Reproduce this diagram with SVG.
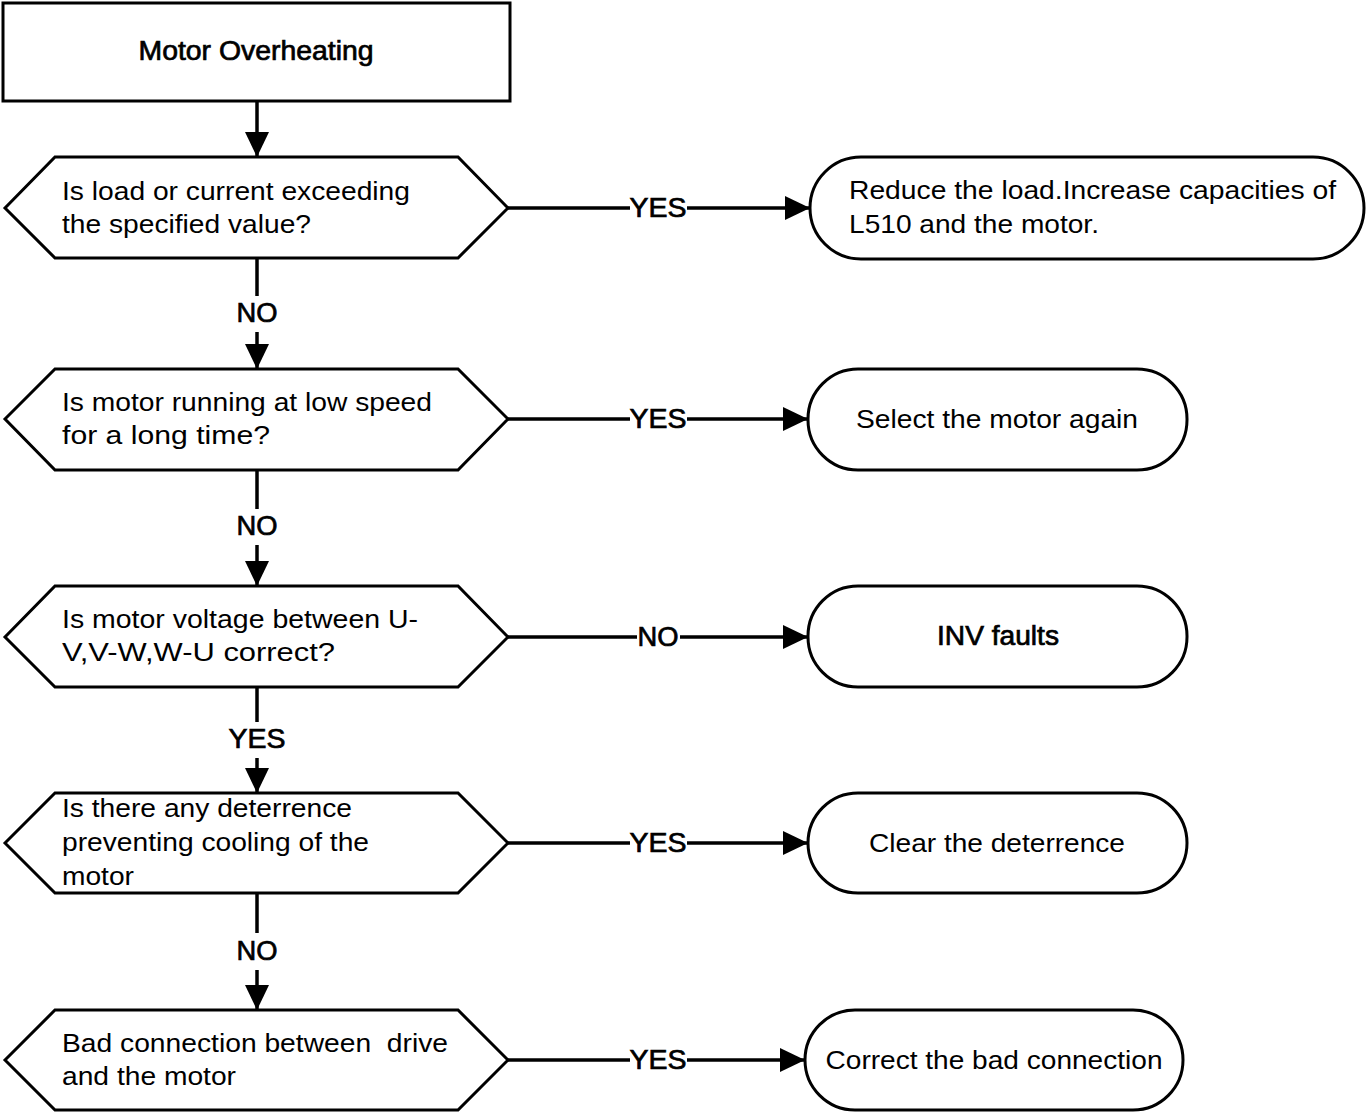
<svg xmlns="http://www.w3.org/2000/svg" width="1366" height="1113" viewBox="0 0 1366 1113">
<style>
.shape{fill:#fff;stroke:#000;stroke-width:3;stroke-linejoin:miter}
.conn{stroke:#000;stroke-width:3.5;fill:none}
.t{font-family:"Liberation Sans",Arial,sans-serif;font-size:26px;fill:#000;white-space:pre}
.b{font-family:"Liberation Sans",Arial,sans-serif;font-size:27px;fill:#000;stroke:#000;stroke-width:0.7}
.lbl{font-family:"Liberation Sans",Arial,sans-serif;font-size:27px;fill:#000;stroke:#000;stroke-width:0.7;text-anchor:middle}
.c{text-anchor:middle}
</style>
<defs>
<marker id="ah" markerUnits="userSpaceOnUse" markerWidth="26" markerHeight="24" refX="25" refY="12" orient="auto">
<path d="M0,0 L25,12 L0,24 z" fill="#000"/>
</marker>
</defs>
<rect width="1366" height="1113" fill="#fff"/>

<g id="connectors">
<line class="conn" x1="257" y1="101" x2="257" y2="157" marker-end="url(#ah)"/>
<line class="conn" x1="257" y1="258" x2="257" y2="296"/>
<line class="conn" x1="257" y1="332" x2="257" y2="369" marker-end="url(#ah)"/>
<line class="conn" x1="257" y1="470" x2="257" y2="509"/>
<line class="conn" x1="257" y1="545" x2="257" y2="586" marker-end="url(#ah)"/>
<line class="conn" x1="257" y1="687" x2="257" y2="722"/>
<line class="conn" x1="257" y1="758" x2="257" y2="793" marker-end="url(#ah)"/>
<line class="conn" x1="257" y1="893" x2="257" y2="933"/>
<line class="conn" x1="257" y1="970" x2="257" y2="1010" marker-end="url(#ah)"/>
<text class="lbl" x="257" y="322" textLength="41" lengthAdjust="spacingAndGlyphs">NO</text>
<text class="lbl" x="257" y="535" textLength="41" lengthAdjust="spacingAndGlyphs">NO</text>
<text class="lbl" x="257" y="748" textLength="57" lengthAdjust="spacingAndGlyphs">YES</text>
<text class="lbl" x="257" y="960" textLength="41" lengthAdjust="spacingAndGlyphs">NO</text>

<line class="conn" x1="508" y1="208" x2="630" y2="208"/>
<line class="conn" x1="687" y1="208" x2="810" y2="208" marker-end="url(#ah)"/>
<text class="lbl" x="658" y="217" textLength="57" lengthAdjust="spacingAndGlyphs">YES</text>
<line class="conn" x1="508" y1="419" x2="630" y2="419"/>
<line class="conn" x1="687" y1="419" x2="808" y2="419" marker-end="url(#ah)"/>
<text class="lbl" x="658" y="428" textLength="57" lengthAdjust="spacingAndGlyphs">YES</text>
<line class="conn" x1="508" y1="637" x2="637" y2="637"/>
<line class="conn" x1="680" y1="637" x2="808" y2="637" marker-end="url(#ah)"/>
<text class="lbl" x="658" y="646" textLength="41" lengthAdjust="spacingAndGlyphs">NO</text>
<line class="conn" x1="508" y1="843" x2="630" y2="843"/>
<line class="conn" x1="687" y1="843" x2="808" y2="843" marker-end="url(#ah)"/>
<text class="lbl" x="658" y="852" textLength="57" lengthAdjust="spacingAndGlyphs">YES</text>
<line class="conn" x1="508" y1="1060" x2="630" y2="1060"/>
<line class="conn" x1="687" y1="1060" x2="805" y2="1060" marker-end="url(#ah)"/>
<text class="lbl" x="658" y="1069" textLength="57" lengthAdjust="spacingAndGlyphs">YES</text>
</g>

<g id="start">
<rect class="shape" x="3" y="3" width="507" height="98"/>
<text class="b c" x="256" y="60" textLength="235" lengthAdjust="spacingAndGlyphs">Motor Overheating</text>
</g>

<g id="q1">
<polygon class="shape" points="5,208 55,157 458,157 508,208 458,258 55,258"/>
<text class="t" x="62" y="200" textLength="348" lengthAdjust="spacingAndGlyphs">Is load or current exceeding</text>
<text class="t" x="62" y="233" textLength="249" lengthAdjust="spacingAndGlyphs">the specified value?</text>
</g>
<g id="a1">
<rect class="shape" x="810" y="157" width="554" height="102" rx="51" ry="51"/>
<text class="t" x="849" y="199" textLength="487" lengthAdjust="spacingAndGlyphs">Reduce the load.Increase capacities of</text>
<text class="t" x="849" y="233" textLength="250" lengthAdjust="spacingAndGlyphs">L510 and the motor.</text>
</g>

<g id="q2">
<polygon class="shape" points="5,419 55,369 458,369 508,419 458,470 55,470"/>
<text class="t" x="62" y="411" textLength="370" lengthAdjust="spacingAndGlyphs">Is motor running at low speed</text>
<text class="t" x="62" y="444" textLength="208" lengthAdjust="spacingAndGlyphs">for a long time?</text>
</g>
<g id="a2">
<rect class="shape" x="808" y="369" width="379" height="101" rx="50" ry="50"/>
<text class="t c" x="997" y="428" textLength="282" lengthAdjust="spacingAndGlyphs">Select the motor again</text>
</g>

<g id="q3">
<polygon class="shape" points="5,637 55,586 458,586 508,637 458,687 55,687"/>
<text class="t" x="62" y="628" textLength="356" lengthAdjust="spacingAndGlyphs">Is motor voltage between U-</text>
<text class="t" x="62" y="661" textLength="273" lengthAdjust="spacingAndGlyphs">V,V-W,W-U correct?</text>
</g>
<g id="a3">
<rect class="shape" x="808" y="586" width="379" height="101" rx="50" ry="50"/>
<text class="b c" x="998" y="645" textLength="122" lengthAdjust="spacingAndGlyphs">INV faults</text>
</g>

<g id="q4">
<polygon class="shape" points="5,843 55,793 458,793 508,843 458,893 55,893"/>
<text class="t" x="62" y="817" textLength="290" lengthAdjust="spacingAndGlyphs">Is there any deterrence</text>
<text class="t" x="62" y="851" textLength="307" lengthAdjust="spacingAndGlyphs">preventing cooling of the</text>
<text class="t" x="62" y="885" textLength="72" lengthAdjust="spacingAndGlyphs">motor</text>
</g>
<g id="a4">
<rect class="shape" x="808" y="793" width="379" height="100" rx="50" ry="50"/>
<text class="t c" x="997" y="852" textLength="256" lengthAdjust="spacingAndGlyphs">Clear the deterrence</text>
</g>

<g id="q5">
<polygon class="shape" points="5,1060 55,1010 458,1010 508,1060 458,1110 55,1110"/>
<text class="t" x="62" y="1052" textLength="386" lengthAdjust="spacingAndGlyphs" xml:space="preserve">Bad connection between  drive</text>
<text class="t" x="62" y="1085" textLength="174" lengthAdjust="spacingAndGlyphs">and the motor</text>
</g>
<g id="a5">
<rect class="shape" x="805" y="1010" width="378" height="100" rx="50" ry="50"/>
<text class="t c" x="994" y="1069" textLength="337" lengthAdjust="spacingAndGlyphs">Correct the bad connection</text>
</g>
</svg>
